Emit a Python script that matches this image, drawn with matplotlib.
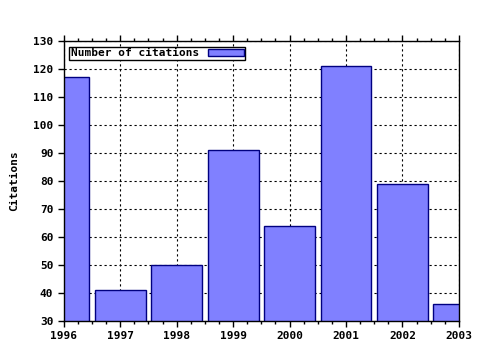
import matplotlib
matplotlib.use("Agg")
import matplotlib.pyplot as plt
from matplotlib.ticker import MultipleLocator

years = [1996, 1997, 1998, 1999, 2000, 2001, 2002, 2003]
citations = [117, 41, 50, 91, 64, 121, 79, 36]

plt.rcParams['font.family'] = 'DejaVu Sans Mono'
plt.rcParams['font.weight'] = 'bold'
plt.rcParams['font.size'] = 8

fig = plt.figure(figsize=(4.8, 3.5), dpi=100)
ax = fig.add_axes([0.133, 0.083, 0.823, 0.8])

ax.bar(years, citations, width=0.9, color='#8080ff', edgecolor='#000080',
       linewidth=1, label='Number of citations', zorder=2)

ax.set_xlim(1996, 2003)
ax.set_ylim(30, 130)
ax.set_xticks(years)
ax.xaxis.set_minor_locator(MultipleLocator(0.25))
ax.set_yticks(range(30, 131, 10))
ax.grid(True, which='major', color='black', linestyle=(0, (2, 2.5)), linewidth=0.8, zorder=1)
ax.set_axisbelow(True)

ax.tick_params(which='major', direction='out', length=4, width=1, top=True)
ax.tick_params(which='minor', direction='out', length=2, width=1, top=True)
for s in ax.spines.values():
    s.set_linewidth(1)

ax.set_ylabel('Citations', fontweight='bold', labelpad=10)

leg = ax.legend(loc='upper left', markerfirst=False, fancybox=False,
                framealpha=1, edgecolor='black', borderpad=0.15,
                handlelength=3.2, handleheight=0.6, borderaxespad=0.5)
leg.get_frame().set_linewidth(1)

fig.savefig('out.png', dpi=100)
